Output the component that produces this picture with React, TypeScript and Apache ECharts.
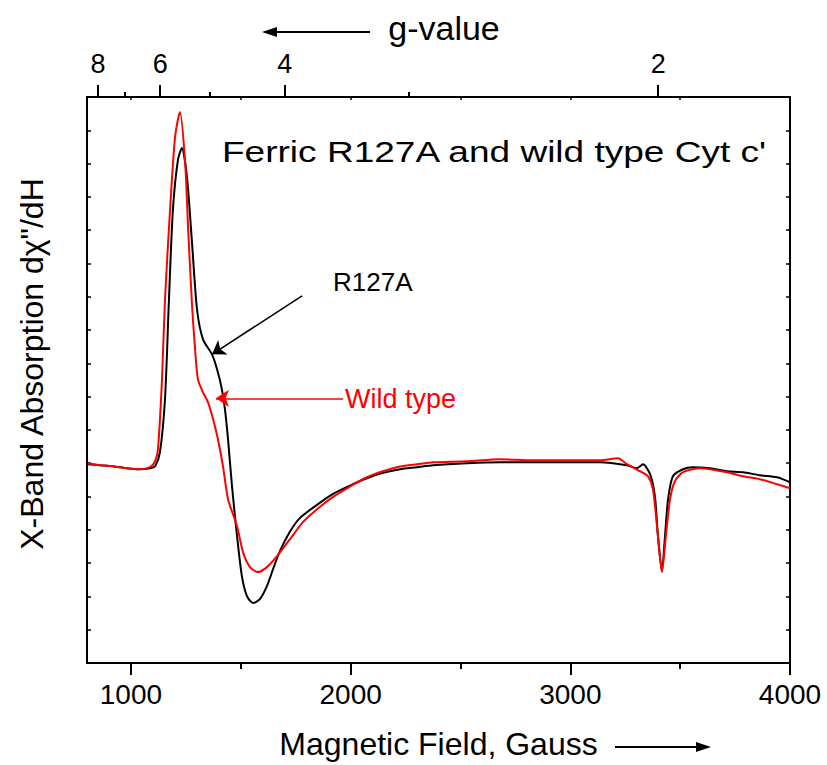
import React, { useEffect, useRef } from "react";
import * as echarts from "echarts";

// Magnetic field (G) and derivative signal (arbitrary units, 0..17 frame)
const r127aField = [805, 859, 918, 982, 1041, 1087, 1110, 1132, 1155, 1173, 1191, 1214, 1232, 1255, 1278, 1301, 1328, 1369, 1392, 1414, 1428, 1442, 1460, 1483, 1505, 1528, 1556, 1587, 1619, 1647, 1678, 1724, 1770, 1847, 1920, 1997, 2074, 2147, 2225, 2302, 2375, 2530, 2680, 2830, 2985, 3135, 3258, 3303, 3331, 3363, 3385, 3399, 3417, 3431, 3445, 3467, 3513, 3558, 3636, 3713, 3786, 3863, 3941, 4000];
const r127aSignal = [5.97, 5.94, 5.91, 5.85, 5.82, 5.85, 5.91, 6.33, 7.92, 10.91, 13.61, 15.11, 15.47, 14.6, 12.62, 10.61, 9.72, 9.27, 8.82, 8.22, 7.62, 6.72, 5.31, 3.81, 2.61, 2.01, 1.8, 1.92, 2.31, 2.82, 3.36, 3.95, 4.36, 4.75, 5.08, 5.33, 5.55, 5.71, 5.82, 5.88, 5.94, 6.0, 6.03, 6.03, 6.03, 6.03, 5.94, 5.85, 5.97, 5.67, 5.01, 3.81, 2.76, 3.81, 4.92, 5.61, 5.82, 5.88, 5.85, 5.76, 5.73, 5.64, 5.58, 5.43];

const wildField = [805, 859, 918, 982, 1041, 1087, 1110, 1123, 1141, 1155, 1178, 1201, 1223, 1246, 1260, 1278, 1292, 1305, 1328, 1351, 1374, 1396, 1419, 1442, 1483, 1510, 1542, 1578, 1619, 1665, 1724, 1783, 1847, 1920, 1997, 2074, 2147, 2225, 2302, 2375, 2530, 2680, 2830, 2985, 3135, 3217, 3258, 3317, 3353, 3376, 3399, 3417, 3435, 3454, 3476, 3513, 3590, 3713, 3786, 3863, 3941, 4000];
const wildSignal = [6.0, 5.94, 5.91, 5.85, 5.82, 5.88, 6.06, 6.42, 8.46, 10.91, 13.61, 15.8, 16.55, 15.11, 13.1, 10.76, 9.42, 8.52, 8.13, 7.83, 7.32, 6.72, 5.91, 4.92, 4.11, 3.33, 2.88, 2.73, 2.88, 3.21, 3.72, 4.23, 4.62, 4.99, 5.3, 5.58, 5.76, 5.9, 5.97, 6.03, 6.06, 6.12, 6.09, 6.09, 6.09, 6.15, 5.97, 5.76, 5.61, 5.22, 3.81, 2.73, 3.81, 4.92, 5.46, 5.73, 5.85, 5.73, 5.61, 5.52, 5.37, 5.25];

const fieldMajorTicks = [1000, 2000, 3000, 4000];
const fieldMinorTicks = [1500, 2500, 3500];
const fieldTopInnerTicks = [1000, 1500, 2000, 2500, 3000, 3500];
const gMajorTicks = [8, 6, 4, 2];
const gMinorTicks = [7, 5, 3];
const G_TIMES_FIELD = 6800; // g * B (Gauss) at X-band

// annotation arrows in data coordinates [field, signal]
const r127aArrow = [[1779, 11.03], [1369, 9.27]];
const wildArrow = [[1965, 7.95], [1387, 7.95]];

const FONT = "'Liberation Sans', Arial, Helvetica, sans-serif";

const zip = (a: number[], b: number[]) => a.map((v, i) => [v, b[i]]);

export default function App() {
  const ref = useRef<HTMLDivElement>(null);
  useEffect(() => {
    document.body.style.margin = "0";
    const chart = echarts.init(ref.current!, null, { renderer: "svg" });
    const xBase = {
      type: "value" as const,
      gridIndex: 0,
      min: 800,
      max: 4000,
      splitLine: { show: false },
    };
    const gToField = (g: number) => G_TIMES_FIELD / g;
    const arrowLine = (pts: number[][], color: string) => ({
      silent: true,
      symbol: ["none", "arrow"],
      symbolSize: 13,
      label: { show: false },
      emphasis: { disabled: true },
      lineStyle: { type: "solid", width: 1.5, color },
      itemStyle: { color },
      data: [[{ coord: pts[0] }, { coord: pts[1] }]],
    });
    chart.setOption({
      animation: false,
      backgroundColor: "#fff",
      textStyle: { fontFamily: FONT },
      grid: { left: 87, top: 97, width: 703, height: 567, containLabel: false },
      xAxis: [
        {
          ...xBase,
          position: "bottom",
          axisLine: { show: true, lineStyle: { color: "#000", width: 2 } },
          axisTick: { show: true, customValues: fieldMajorTicks, length: 12, lineStyle: { color: "#000", width: 2 } },
          axisLabel: {
            show: true,
            customValues: fieldMajorTicks,
            formatter: (v: number) => String(v),
            fontSize: 28,
            color: "#000",
            margin: 17,
            fontFamily: FONT,
          },
          name: "Magnetic Field, Gauss",
          nameLocation: "middle",
          nameGap: 65,
          nameTextStyle: { fontSize: 32, color: "#000", fontFamily: FONT },
        },
        {
          ...xBase,
          position: "bottom",
          axisLine: { show: false },
          axisTick: { show: true, customValues: fieldMinorTicks, length: 6, lineStyle: { color: "#000", width: 2 } },
          axisLabel: { show: false },
        },
        {
          ...xBase,
          position: "top",
          axisLine: { show: true, lineStyle: { color: "#000", width: 2 } },
          axisTick: { show: true, customValues: gMajorTicks.map(gToField), length: 12, lineStyle: { color: "#000", width: 2 } },
          axisLabel: {
            show: true,
            customValues: gMajorTicks.map(gToField),
            formatter: (v: number) => String(Math.round(G_TIMES_FIELD / v)),
            fontSize: 27,
            color: "#000",
            margin: 20,
            fontFamily: FONT,
          },
        },
        {
          ...xBase,
          position: "top",
          axisLine: { show: false },
          axisTick: { show: true, customValues: gMinorTicks.map(gToField), length: 5, lineStyle: { color: "#000", width: 2 } },
          axisLabel: { show: false },
        },
        {
          ...xBase,
          position: "top",
          axisLine: { show: false },
          axisTick: { show: true, inside: true, customValues: fieldTopInnerTicks, length: 3, lineStyle: { color: "#000", width: 1.5 } },
          axisLabel: { show: false },
        },
      ],
      yAxis: [
        {
          type: "value",
          position: "left",
          min: 0,
          max: 17,
          interval: 1,
          axisLine: { show: true, lineStyle: { color: "#000", width: 2 } },
          axisTick: { show: true, inside: true, length: 4, lineStyle: { color: "#000", width: 1.5 } },
          axisLabel: { show: false },
          splitLine: { show: false },
        },
        {
          type: "value",
          position: "right",
          min: 0,
          max: 17,
          interval: 1,
          axisLine: { show: true, lineStyle: { color: "#000", width: 2 } },
          axisTick: { show: true, inside: true, length: 4, lineStyle: { color: "#000", width: 1.5 } },
          axisLabel: { show: false },
          splitLine: { show: false },
        },
      ],
      series: [
        {
          name: "R127A",
          type: "line",
          xAxisIndex: 0,
          yAxisIndex: 0,
          data: zip(r127aField, r127aSignal),
          showSymbol: false,
          smooth: 0.25,
          lineStyle: { color: "#000", width: 2 },
          itemStyle: { color: "#000" },
          markLine: arrowLine(r127aArrow, "#000"),
          z: 2,
        },
        {
          name: "Wild type",
          type: "line",
          xAxisIndex: 0,
          yAxisIndex: 0,
          data: zip(wildField, wildSignal),
          showSymbol: false,
          smooth: 0.25,
          lineStyle: { color: "#ff0000", width: 2 },
          itemStyle: { color: "#ff0000" },
          markLine: arrowLine(wildArrow, "#ff0000"),
          z: 3,
        },
      ],
      graphic: [
        {
          type: "text",
          x: 222,
          y: 151,
          scaleX: 1.235,
          style: { text: "Ferric R127A and wild type Cyt c'", fontSize: 30, fontFamily: FONT, fill: "#000", textAlign: "left", textVerticalAlign: "middle" },
        },
        {
          type: "text",
          x: 333,
          y: 282,
          style: { text: "R127A", fontSize: 26, fontFamily: FONT, fill: "#000", textAlign: "left", textVerticalAlign: "middle" },
        },
        {
          type: "text",
          x: 345,
          y: 399,
          style: { text: "Wild type", fontSize: 27, fontFamily: FONT, fill: "#ff0000", textAlign: "left", textVerticalAlign: "middle" },
        },
        {
          type: "text",
          x: 32,
          y: 364,
          rotation: Math.PI / 2,
          style: { text: "X-Band Absorption dχ\"/dH", fontSize: 32, fontFamily: FONT, fill: "#000", textAlign: "center", textVerticalAlign: "middle" },
        },
        {
          type: "text",
          x: 444,
          y: 28,
          style: { text: "g-value", fontSize: 34, fontFamily: FONT, fill: "#000", textAlign: "center", textVerticalAlign: "middle" },
        },
        { type: "line", shape: { x1: 274, y1: 32, x2: 370, y2: 32 }, style: { stroke: "#000", lineWidth: 2 } },
        { type: "polygon", shape: { points: [[262, 32], [277, 27], [277, 37]] }, style: { fill: "#000" } },
        { type: "line", shape: { x1: 615, y1: 747, x2: 698, y2: 747 }, style: { stroke: "#000", lineWidth: 2 } },
        { type: "polygon", shape: { points: [[711, 747], [696, 742], [696, 752]] }, style: { fill: "#000" } },
      ],
    });
    return () => chart.dispose();
  }, []);
  return <div ref={ref} style={{ width: 827, height: 765 }} />;
}
